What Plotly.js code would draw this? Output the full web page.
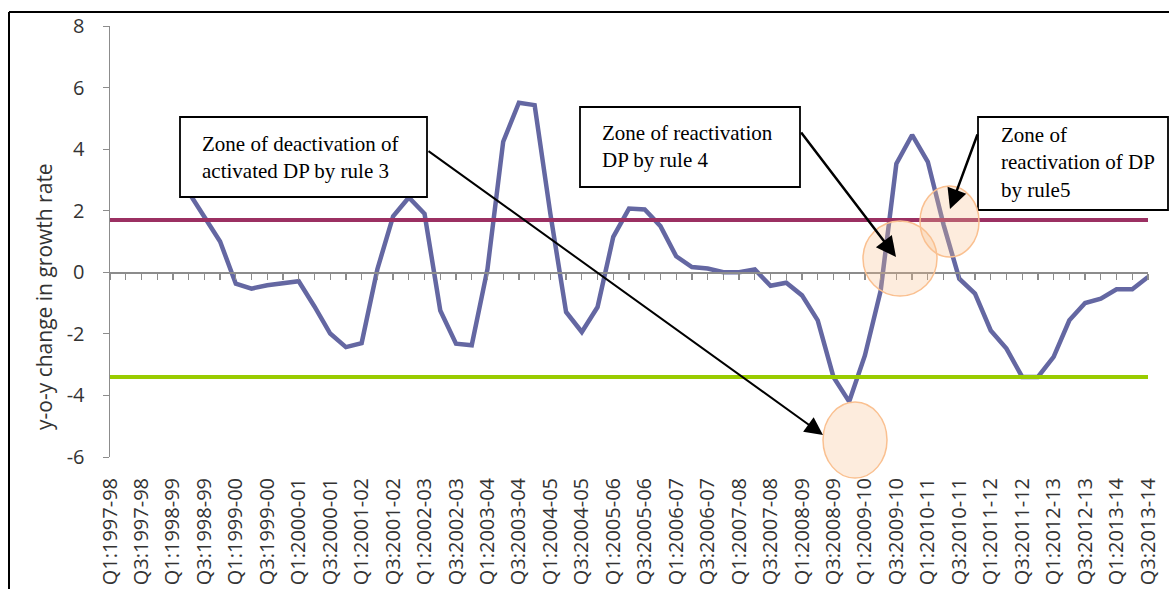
<!DOCTYPE html>
<html>
<head>
<meta charset="utf-8">
<script src="https://cdn.plot.ly/plotly-3.0.1.min.js"></script>
<style>html,body{margin:0;padding:0;background:#fff;}#chart{width:1169px;height:589px;}</style>
</head>
<body>
<div id="chart"></div>
<script>
// ---- data ----
const quarters = [
  "Q1:1997-98","Q2:1997-98","Q3:1997-98","Q4:1997-98",
  "Q1:1998-99","Q2:1998-99","Q3:1998-99","Q4:1998-99",
  "Q1:1999-00","Q2:1999-00","Q3:1999-00","Q4:1999-00",
  "Q1:2000-01","Q2:2000-01","Q3:2000-01","Q4:2000-01",
  "Q1:2001-02","Q2:2001-02","Q3:2001-02","Q4:2001-02",
  "Q1:2002-03","Q2:2002-03","Q3:2002-03","Q4:2002-03",
  "Q1:2003-04","Q2:2003-04","Q3:2003-04","Q4:2003-04",
  "Q1:2004-05","Q2:2004-05","Q3:2004-05","Q4:2004-05",
  "Q1:2005-06","Q2:2005-06","Q3:2005-06","Q4:2005-06",
  "Q1:2006-07","Q2:2006-07","Q3:2006-07","Q4:2006-07",
  "Q1:2007-08","Q2:2007-08","Q3:2007-08","Q4:2007-08",
  "Q1:2008-09","Q2:2008-09","Q3:2008-09","Q4:2008-09",
  "Q1:2009-10","Q2:2009-10","Q3:2009-10","Q4:2009-10",
  "Q1:2010-11","Q2:2010-11","Q3:2010-11","Q4:2010-11",
  "Q1:2011-12","Q2:2011-12","Q3:2011-12","Q4:2011-12",
  "Q1:2012-13","Q2:2012-13","Q3:2012-13","Q4:2012-13",
  "Q1:2013-14","Q2:2013-14","Q3:2013-14"
];
const tickLabels = [
  "Q1:1997-98","Q3:1997-98","Q1:1998-99","Q3:1998-99","Q1:1999-00","Q3:1999-00",
  "Q1:2000-01","Q3:2000-01","Q1:2001-02","Q3:2001-02","Q1:2002-03","Q3:2002-03",
  "Q1:2003-04","Q3:2003-04","Q1:2004-05","Q3:2004-05","Q1:2005-06","Q3:2005-06",
  "Q1:2006-07","Q3:2006-07","Q1:2007-08","Q3:2007-08","Q1:2008-09","Q3:2008-09",
  "Q1:2009-10","Q3:2009-10","Q1:2010-11","Q3:2010-11","Q1:2011-12","Q3:2011-12",
  "Q1:2012-13","Q3:2012-13","Q1:2013-14","Q3:2013-14"
];
const yoyChange = [
  null, null, null, null, null, 2.6, 1.8, 1.0,
  -0.37, -0.53, -0.42, -0.34, -0.29, -1.11, -1.99, -2.43,
  -2.30, 0.1, 1.82, 2.43, 1.9, -1.24, -2.32, -2.37,
  0.1, 4.24, 5.51, 5.43, 1.9, -1.29, -1.94, -1.13,
  1.15, 2.07, 2.04, 1.5, 0.52, 0.17, 0.12, 0.0,
  0.0, 0.09, -0.44, -0.34, -0.75, -1.56, -3.40, -4.2,
  -2.7, -0.6, 3.53, 4.46, 3.59, 1.55, -0.21, -0.69,
  -1.89, -2.48, -3.4, -3.4, -2.75, -1.56, -1.0, -0.86,
  -0.55, -0.55, -0.15
];
const upperThreshold = 1.7;
const lowerThreshold = -3.4;
const yTicks = [-6, -4, -2, 0, 2, 4, 6, 8];
const yTickText = ["-6", "-4", "-2", "0", "2", "4", "6", "8"];
const yTitle = "y-o-y change in growth rate";
const notes = [
  "Zone of deactivation of<br>activated DP by rule 3",
  "Zone of reactivation<br>DP by rule 4",
  "Zone of<br>reactivation of DP<br>by rule5"
];

// ---- layout helpers (pixel -> paper) ----
const X0 = 110, W = 1038, YT = 26, H = 431;
const fx = p => (p - X0) / W;
const fy = p => (YT + H - p) / H;

const traces = [
  {x: quarters, y: quarters.map(() => upperThreshold), xaxis: 'x2', type: 'scatter', mode: 'lines',
   line: {color: '#9B3062', width: 4}, hoverinfo: 'skip'},
  {x: quarters, y: quarters.map(() => lowerThreshold), xaxis: 'x2', type: 'scatter', mode: 'lines',
   line: {color: '#99CC00', width: 4}, hoverinfo: 'skip'},
  {x: quarters, y: yoyChange, type: 'scatter', mode: 'lines', connectgaps: false,
   line: {color: '#6467A2', width: 4.5}}
];

const rect = (x0, y0, x1, y1) => ({type: 'rect', xref: 'paper', yref: 'paper',
  x0: fx(x0), x1: fx(x1), y0: fy(y1), y1: fy(y0), fillcolor: '#fff', line: {color: '#000', width: 1.8}});
const ell = (x0, y0, x1, y1) => ({type: 'circle', xref: 'paper', yref: 'paper',
  x0: fx(x0), x1: fx(x1), y0: fy(y1), y1: fy(y0), fillcolor: 'rgba(250,192,143,0.3)', line: {color: '#FAC090', width: 1.5}});
const ln = (x0, y0, x1, y1) => ({type: 'line', xref: 'paper', yref: 'paper',
  x0: fx(x0), x1: fx(x1), y0: fy(y0), y1: fy(y1), line: {color: '#000', width: 2}});

const shapes = [
  ln(9, 12, 9, 620), ln(9, 12, 1200, 12),
  rect(180, 117, 427, 197),
  rect(580, 107, 800, 187),
  rect(978, 117, 1168, 210),
  ell(823, 402, 887, 478),
  ell(863, 221, 937, 296),
  ell(920, 186, 979, 257)
];

const noteFont = {family: 'Liberation Serif, Times New Roman, serif', size: 21, color: '#000'};
const txt = (t, x, y) => ({text: t, xref: 'paper', yref: 'paper', x: fx(x), y: fy(y),
  xanchor: 'left', yanchor: 'middle', align: 'left', showarrow: false, font: noteFont});
const arrow = (hx, hy, tx, ty, w, s) => ({text: '', xref: 'paper', yref: 'paper', x: fx(hx), y: fy(hy),
  ax: tx - hx, ay: ty - hy, axref: 'pixel', ayref: 'pixel', showarrow: true,
  arrowhead: 2, arrowsize: s, arrowwidth: w, arrowcolor: '#000'});

const annotations = [
  {text: yTitle, xref: 'paper', yref: 'paper', x: fx(44), y: fy(297), textangle: -90,
   xanchor: 'center', yanchor: 'middle', showarrow: false,
   font: {family: 'Open Sans, sans-serif', size: 21, color: '#333'}},
  txt(notes[0], 200, 157),
  txt(notes[1], 600, 146),
  txt(notes[2], 999, 163),
  arrow(823, 435, 427, 150, 2, 1.8),
  arrow(896, 257, 800, 131, 2.5, 1.6),
  arrow(950, 209, 978, 133, 2.5, 1.6)
];

const layout = {
  width: 1169, height: 589,
  margin: {l: 110, r: 21, t: 26, b: 132},
  paper_bgcolor: '#fff', plot_bgcolor: '#fff',
  showlegend: false,
  xaxis: {type: 'category', range: [0, 66], showgrid: false, zeroline: false, showline: false,
    ticks: '', tickmode: 'array', tickvals: tickLabels, ticktext: tickLabels, tickangle: -90,
    tickfont: {family: 'Open Sans, sans-serif', size: 20, color: '#333'}, ticklabelstandoff: 16},
  xaxis2: {type: 'category', overlaying: 'x', anchor: 'free', position: 6 / 14, range: [0, 66],
    showgrid: false, zeroline: false, showline: true, linecolor: '#8C8C8C', linewidth: 1.5,
    ticks: 'outside', ticklen: 6, tickcolor: '#8C8C8C', tickwidth: 1.2, tickmode: 'linear', tick0: 0, dtick: 1,
    showticklabels: false},
  yaxis: {range: [-6, 8], tickmode: 'array', tickvals: yTicks, ticktext: yTickText, showgrid: false, zeroline: false,
    showline: true, linecolor: '#8C8C8C', linewidth: 1.5, ticks: 'outside', ticklen: 6, tickcolor: '#8C8C8C',
    tickfont: {family: 'Open Sans, sans-serif', size: 20, color: '#333'}, ticklabelstandoff: 14},
  shapes: shapes,
  annotations: annotations
};

Plotly.newPlot('chart', traces, layout, {displayModeBar: false, staticPlot: true});
</script>
</body>
</html>
